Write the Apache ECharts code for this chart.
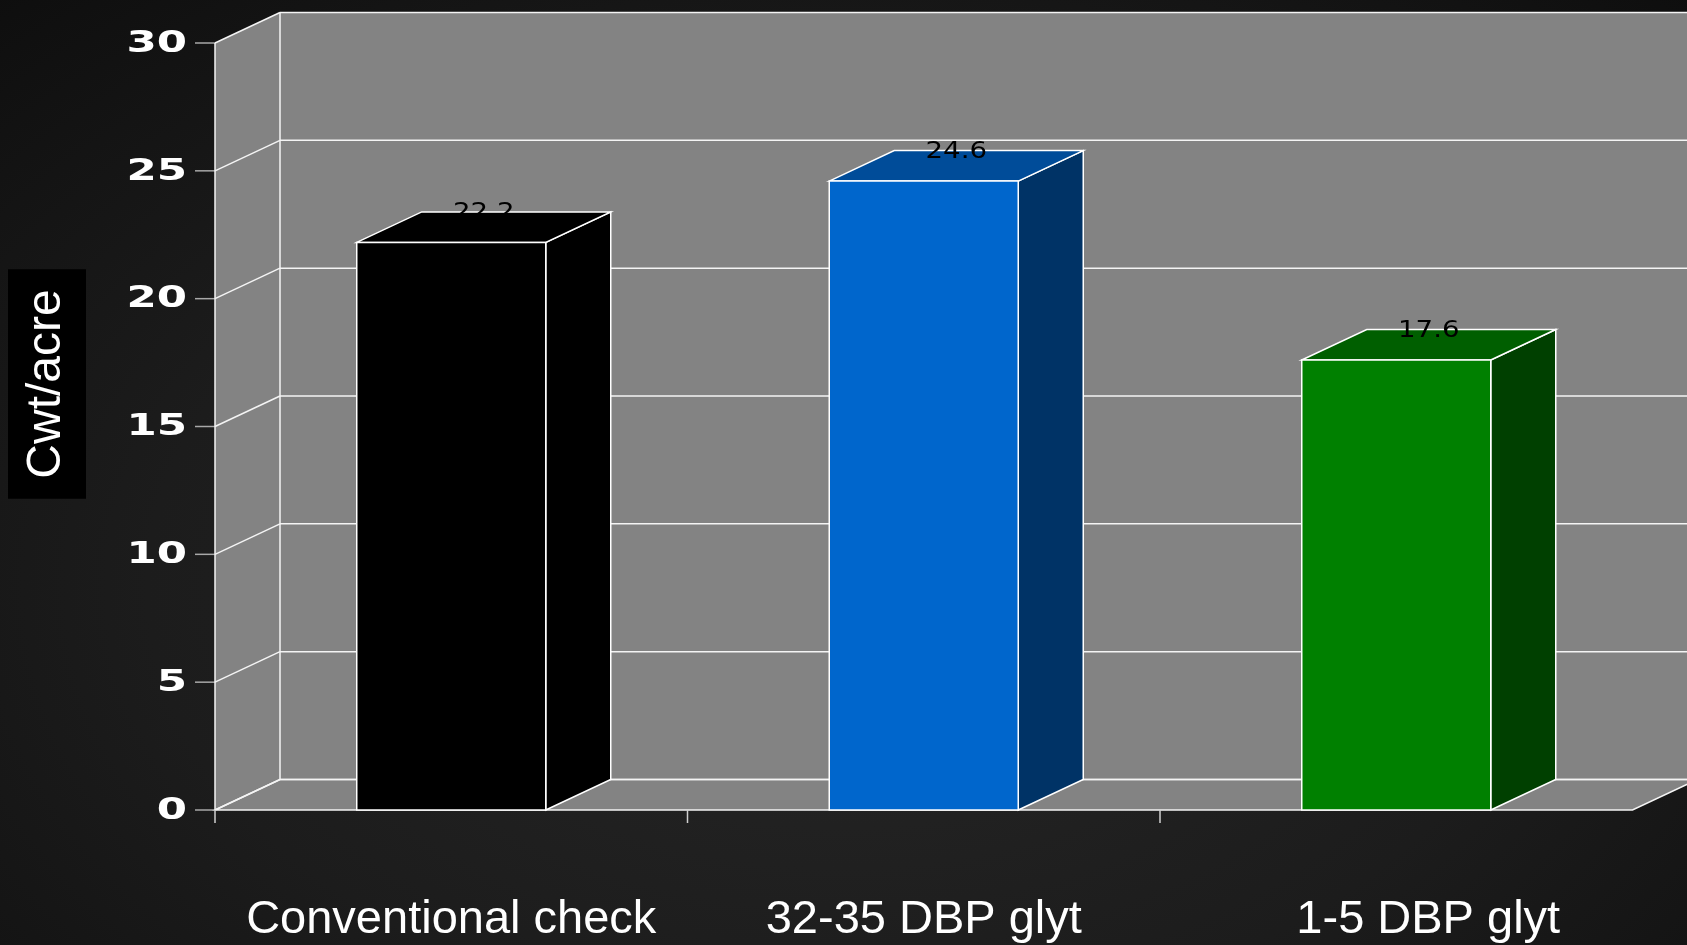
<!DOCTYPE html>
<html>
<head>
<meta charset="utf-8">
<title>Cwt/acre</title>
<script src="https://cdn.jsdelivr.net/npm/echarts@6/dist/echarts.min.js"></script>
<style>
  html, body { margin: 0; padding: 0; width: 100%; height: 100%; }
  body { background: radial-gradient(ellipse 75% 85% at 50% 62%, #272727 0%, #1c1c1c 55%, #0e0e0e 100%); }
  #chart { width: 1687px; height: 945px; }
</style>
</head>
<body>
<div id="chart"></div>
<script>
// Yield per treatment
const categories = ['Conventional check', '32-35 DBP glyt', '1-5 DBP glyt'];
const yields = [22.2, 24.6, 17.6];
const yTicks = [0, 5, 10, 15, 20, 25, 30];
const axisTitle = 'Cwt/acre';

// Box colours: front, top, side
const frontColors = ['#000000', '#0066cc', '#008000'];
const topColors = ['#000000', '#004c99', '#005f00'];
const sideColors = ['#000000', '#003366', '#004000'];

// Depth of the pseudo-3D box (pixels)
const DX = 65;
const DY = 30.5;
const WALL = '#838383';
const EDGE = '#f4f4f4';

const chart = echarts.init(document.getElementById('chart'), null, { renderer: 'canvas' });

function line(x1, y1, x2, y2, color, w) {
  return { type: 'line', shape: { x1, y1, x2, y2 }, style: { stroke: color, lineWidth: w || 1.5 }, silent: true };
}

function renderFrame(params, api) {
  const band = api.size([1, 0])[0];
  const c0 = api.coord([0, 0]);
  const x0 = c0[0] - band / 2;
  const y0 = c0[1];
  const x1 = x0 + categories.length * band;
  const yTop = api.coord([0, yTicks[yTicks.length - 1]])[1];
  const children = [];
  // back wall
  children.push({ type: 'rect', shape: { x: x0 + DX, y: yTop - DY, width: x1 - x0, height: y0 - yTop }, style: { fill: WALL } });
  // left side wall
  children.push({ type: 'polygon', shape: { points: [[x0, y0], [x0, yTop], [x0 + DX, yTop - DY], [x0 + DX, y0 - DY]] }, style: { fill: WALL } });
  // floor
  children.push({ type: 'polygon', shape: { points: [[x0, y0], [x0 + DX, y0 - DY], [x1 + DX, y0 - DY], [x1, y0]] }, style: { fill: WALL, stroke: EDGE, lineWidth: 1.5 } });
  // gridlines, tick marks and tick labels
  yTicks.forEach(function (v) {
    const y = api.coord([0, v])[1];
    children.push(line(x0 + DX, y - DY, x1 + DX + 20, y - DY, EDGE));
    children.push(line(x0, y, x0 + DX, y - DY, EDGE));
    children.push(line(x0 - 20, y, x0, y, '#a8a8a8'));
    children.push({
      type: 'text', x: x0 - 28, y: y + 1, scaleX: 1.45,
      style: { text: String(v), align: 'right', verticalAlign: 'middle', fill: '#ffffff', font: 'bold 30px "DejaVu Sans"' }
    });
  });
  // wall edges
  children.push(line(x0, yTop, x0, y0, EDGE));
  children.push(line(x0 + DX, yTop - DY, x0 + DX, y0 - DY, EDGE));
  // category ticks
  for (let i = 0; i < categories.length; i++) {
    const x = x0 + i * band;
    children.push(line(x, y0, x, y0 + 13, '#d0d0d0'));
  }
  return { type: 'group', children };
}

function renderBar(params, api) {
  const i = api.value(0);
  const v = api.value(1);
  const w = api.size([1, 0])[0] * 0.4;
  const p = api.coord([i, v]);
  const b = api.coord([i, 0]);
  const xl = p[0] - w / 2, xr = p[0] + w / 2, yt = p[1], yb = b[1];
  const edge = { stroke: '#ffffff', lineWidth: 1.5 };
  return {
    type: 'group',
    children: [
      { type: 'polygon', shape: { points: [[xr, yb], [xr + DX, yb - DY], [xr + DX, yt - DY], [xr, yt]] }, style: Object.assign({ fill: sideColors[i] }, edge) },
      { type: 'polygon', shape: { points: [[xl, yt], [xl + DX, yt - DY], [xr + DX, yt - DY], [xr, yt]] }, style: Object.assign({ fill: topColors[i] }, edge) },
      { type: 'rect', shape: { x: xl, y: yt, width: w, height: yb - yt }, style: Object.assign({ fill: frontColors[i] }, edge) },
      {
        type: 'text', x: p[0] + DX / 2, y: yt - DY + 1.5, scaleX: 1.2, z2: 10,
        style: { text: v.toFixed(1), align: 'center', verticalAlign: 'middle', fill: '#000000', font: '23px "DejaVu Sans"' }
      }
    ]
  };
}

const option = {
  animation: false,
  backgroundColor: 'transparent',
  grid: { left: 215, right: 54.5, top: 43, bottom: 135, containLabel: false },
  xAxis: {
    type: 'category',
    data: categories.map(function (c, i) {
      return i === 2 ? { value: c, textStyle: { padding: [0, 0, 0, 64] } } : c;
    }),
    boundaryGap: true,
    axisLine: { show: false },
    axisTick: { show: false },
    splitLine: { show: false },
    axisLabel: {
      margin: 87, color: '#ffffff', fontSize: 47, lineHeight: 47,
      fontFamily: '"Liberation Sans", Arial, sans-serif', interval: 0
    }
  },
  yAxis: {
    type: 'value', min: 0, max: 30, interval: 5,
    axisLine: { show: false }, axisTick: { show: false },
    axisLabel: { show: false }, splitLine: { show: false }
  },
  graphic: [{
    type: 'text', x: 47, y: 384, rotation: Math.PI / 2,
    style: {
      text: axisTitle, align: 'center', verticalAlign: 'middle', fill: '#ffffff',
      font: '48px "Liberation Sans", Arial, sans-serif', lineHeight: 48,
      backgroundColor: '#000000', padding: [15, 20, 15, 20]
    }
  }],
  series: [
    { type: 'custom', name: 'frame', z: 1, data: [[0, 0]], renderItem: renderFrame, silent: true },
    { type: 'custom', name: 'yield', z: 2, data: yields.map(function (v, i) { return [i, v]; }), encode: { x: 0, y: 1 }, renderItem: renderBar }
  ]
};

chart.setOption(option);
</script>
</body>
</html>
